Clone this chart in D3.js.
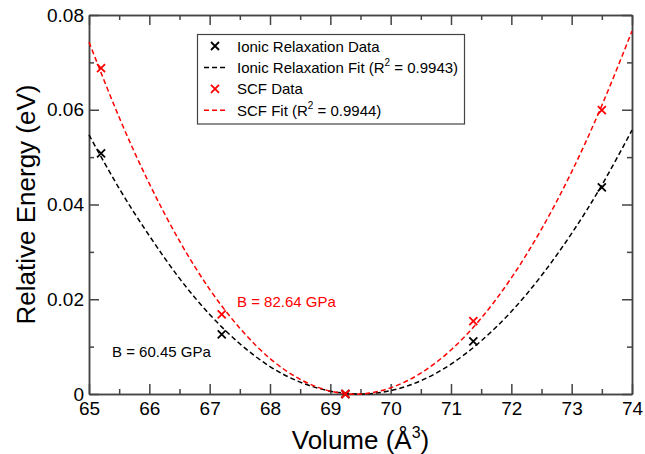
<!DOCTYPE html>
<html>
<head>
<meta charset="utf-8">
<script src="https://cdn.jsdelivr.net/npm/d3@7"></script>
<style>
  body { margin: 0; background: #fff; }
  text { font-family: "Liberation Sans", Arial, sans-serif; }
</style>
</head>
<body>
<svg id="chart" width="645" height="454"></svg>
<script>
// data points (volume in A^3, relative energy in eV)
const ionicVol = [65.2, 67.2, 69.25, 71.37, 73.5];
const ionicE = [0.0508, 0.0126, 0.0, 0.0111, 0.0436];
const scfVol = [65.2, 67.2, 69.25, 71.37, 73.5];
const scfE = [0.0688, 0.0168, 0.0, 0.0154, 0.0599];

// fitted curves
const fitVol = [65, 65.5, 66, 66.5, 67, 67.5, 68, 68.5, 69, 69.5, 70, 70.5, 71, 71.5, 72, 72.5, 73, 73.5, 74];
const ionicFit = [0.0547, 0.0434, 0.0334, 0.0244, 0.0168, 0.0106, 0.0058, 0.0025, 0.0006, 0.0, 0.0007, 0.0028, 0.0063, 0.0112, 0.0174, 0.0250, 0.0339, 0.0441, 0.0557];
const scfFit = [0.0743, 0.0584, 0.0444, 0.0323, 0.0221, 0.0139, 0.0075, 0.0031, 0.0006, 0.0000, 0.0013, 0.0044, 0.0093, 0.0160, 0.0245, 0.0348, 0.0469, 0.0609, 0.0766];

const xMajor = d3.range(65, 74.01, 1);
const xMinor = d3.range(65.5, 74, 1);
const yMajor = [0, 0.02, 0.04, 0.06, 0.08];
const yMinor = [0.01, 0.03, 0.05, 0.07];

const svg = d3.select("#chart");
const pLeft = 89, pRight = 632, pTop = 15, pBottom = 394;

let x = d3.scaleLinear().domain([65, 74]).range([pLeft, pRight]);
let y = d3.scaleLinear().domain([0, 0.08]).range([pBottom, pTop]);

const axisColor = "#444";

// frame and ticks (all ticks point inward, like xmgrace)
function drawAxis(axis, tx, ty) {
    let g = svg.append("g").attr("transform", `translate(${tx},${ty})`).call(axis);
    g.select(".domain").attr("stroke", axisColor).attr("stroke-width", 1.5);
    g.selectAll(".tick line").attr("stroke", axisColor).attr("stroke-width", 1.5);
    g.selectAll(".tick text").attr("fill", "#000").style("font-size", "19px")
        .style("font-family", "'Liberation Sans', Arial, sans-serif");
    return g;
}

drawAxis(d3.axisBottom(x).tickValues(xMajor).tickSizeOuter(0).tickSizeInner(-10).tickPadding(8)
    .tickFormat(d3.format("d")), 0, pBottom);
drawAxis(d3.axisBottom(x).tickValues(xMinor).tickSizeOuter(0).tickSizeInner(-5).tickFormat(""), 0, pBottom);
drawAxis(d3.axisTop(x).tickValues(xMajor).tickSizeOuter(0).tickSizeInner(-10).tickFormat(""), 0, pTop);
drawAxis(d3.axisTop(x).tickValues(xMinor).tickSizeOuter(0).tickSizeInner(-5).tickFormat(""), 0, pTop);

drawAxis(d3.axisLeft(y).tickValues(yMajor).tickSizeOuter(0).tickSizeInner(-10).tickPadding(5)
    .tickFormat(d => d === 0 ? "0" : d3.format(".2f")(d)), pLeft, 0);
drawAxis(d3.axisLeft(y).tickValues(yMinor).tickSizeOuter(0).tickSizeInner(-5).tickFormat(""), pLeft, 0);
drawAxis(d3.axisRight(y).tickValues(yMajor).tickSizeOuter(0).tickSizeInner(-10).tickFormat(""), pRight, 0);
drawAxis(d3.axisRight(y).tickValues(yMinor).tickSizeOuter(0).tickSizeInner(-5).tickFormat(""), pRight, 0);

// axis titles
let xTitle = svg.append("text")
    .attr("x", (pLeft + pRight) / 2).attr("y", 449)
    .attr("text-anchor", "middle")
    .style("font-size", "26px");
xTitle.append("tspan").text("Volume (Å");
xTitle.append("tspan").attr("dy", -11).style("font-size", "16px").text("3");
xTitle.append("tspan").attr("dy", 11).text(")");

svg.append("text")
    .attr("transform", `translate(35,${(pTop + pBottom) / 2}) rotate(-90)`)
    .attr("text-anchor", "middle")
    .style("font-size", "26px")
    .text("Relative Energy (eV)");

// fit curves
let line = d3.line().x(d => x(d[0])).y(d => y(d[1])).curve(d3.curveNatural);

svg.append("path")
    .datum(fitVol.map((v, i) => [v, ionicFit[i]]))
    .attr("d", line)
    .attr("fill", "none").attr("stroke", "#000").attr("stroke-width", 1.5)
    .attr("stroke-dasharray", "5,3");

svg.append("path")
    .datum(fitVol.map((v, i) => [v, scfFit[i]]))
    .attr("d", line)
    .attr("fill", "none").attr("stroke", "#ff0000").attr("stroke-width", 1.5)
    .attr("stroke-dasharray", "5,3");

// x-shaped markers
function drawCross(cx, cy, color) {
    let r = 4;
    svg.append("path")
        .attr("d", `M${cx - r},${cy - r}L${cx + r},${cy + r}M${cx - r},${cy + r}L${cx + r},${cy - r}`)
        .attr("stroke", color).attr("stroke-width", 1.8).attr("fill", "none");
}

ionicVol.forEach((v, i) => drawCross(x(v), y(ionicE[i]), "#000"));
scfVol.forEach((v, i) => drawCross(x(v), y(scfE[i]), "#ff0000"));

// annotations
svg.append("text").attr("x", 237).attr("y", 307).attr("fill", "#ff0000")
    .style("font-size", "15px").text("B = 82.64 GPa");
svg.append("text").attr("x", 112).attr("y", 357).attr("fill", "#000")
    .style("font-size", "15px").text("B = 60.45 GPa");

// legend
const legendItems = [
    { label: "Ionic Relaxation Data", color: "#000", kind: "mark" },
    { label: "Ionic Relaxation Fit", r2: "0.9943", color: "#000", kind: "line" },
    { label: "SCF Data", color: "#ff0000", kind: "mark" },
    { label: "SCF Fit", r2: "0.9944", color: "#ff0000", kind: "line" }
];

svg.append("rect")
    .attr("x", 197.5).attr("y", 34.5).attr("width", 267).attr("height", 89.5)
    .attr("fill", "#fff").attr("stroke", axisColor).attr("stroke-width", 1.2);

legendItems.forEach((d, i) => {
    let cy = 46 + i * 21.4;
    if (d.kind === "mark") {
        drawCross(215, cy, d.color);
    } else {
        svg.append("line")
            .attr("x1", 204).attr("x2", 226).attr("y1", cy).attr("y2", cy)
            .attr("stroke", d.color).attr("stroke-width", 1.5)
            .attr("stroke-dasharray", "5,3");
    }
    let t = svg.append("text").attr("x", 237).attr("y", cy + 5.5)
        .style("font-size", "15px").attr("fill", "#000");
    if (d.r2) {
        t.append("tspan").text(d.label + " (R");
        t.append("tspan").attr("dy", -7).style("font-size", "10px").text("2");
        t.append("tspan").attr("dy", 7).text(" = " + d.r2 + ")");
    } else {
        t.text(d.label);
    }
});
</script>
</body>
</html>
